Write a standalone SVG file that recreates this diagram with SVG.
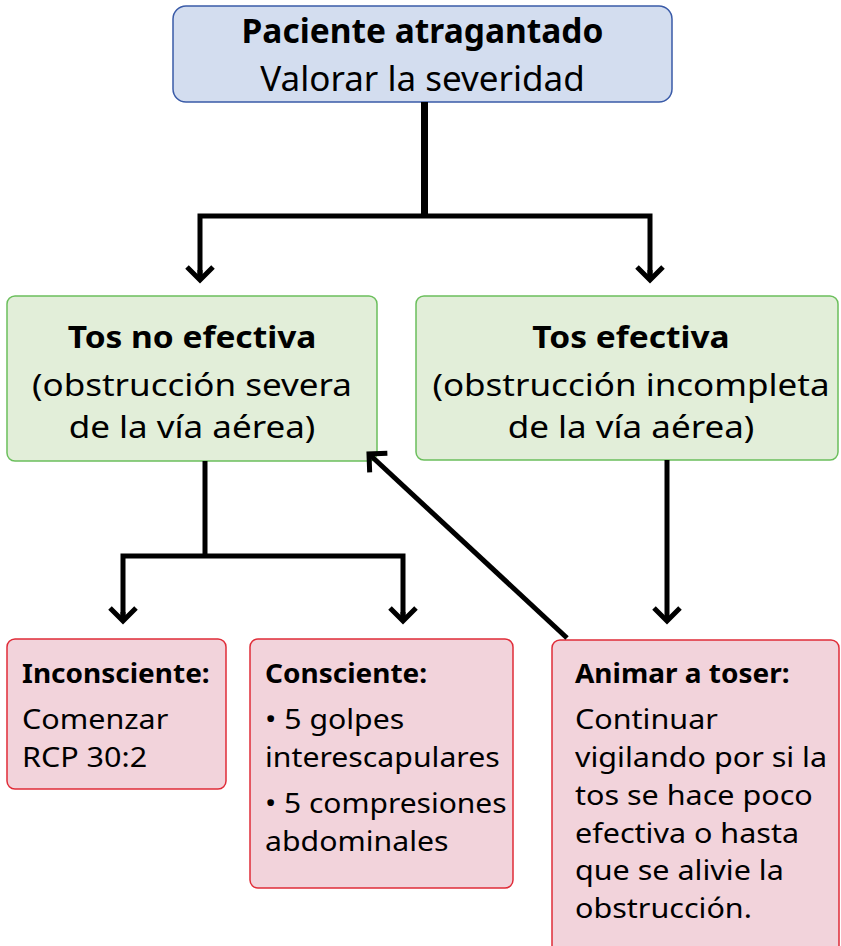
<svg xmlns="http://www.w3.org/2000/svg" width="841" height="946" viewBox="0 0 841 946">
<defs>
<marker id="chev" markerUnits="userSpaceOnUse" viewBox="-20 -16 24 32" refX="0" refY="0" markerWidth="24" markerHeight="32" orient="auto">
<path d="M-13,-13 L0,0 L-13,13" fill="none" stroke="#000" stroke-width="5" stroke-linejoin="miter"/>
</marker>
</defs>
<style>
text{font-family:"Noto Sans","Open Sans","DejaVu Sans",sans-serif;fill:#000}
.blue{fill:#d3ddef;stroke:#3a5ba8;stroke-width:1.5}
.green{fill:#e2eed9;stroke:#6bbf5c;stroke-width:1.5}
.pink{fill:#f2d3db;stroke:#e02c38;stroke-width:1.5}
.top{font-size:35px}
.topb{font-size:33.5px;font-weight:bold}
.big{font-size:30.5px}
.bigb{font-size:30.5px;font-weight:bold}
.sm{font-size:27px}
.smb{font-size:27px;font-weight:bold}
.m{text-anchor:middle}
.c{stroke:#000;fill:none;stroke-linejoin:miter}
</style>
<g id="n-paciente">
<rect class="blue" x="173" y="6" width="499" height="96" rx="13"/>
<text class="topb m" x="422.5" y="43">Paciente atragantado</text>
<text class="top m" x="422.5" y="91">Valorar la severidad</text>
</g>
<g id="n-tos-no-efectiva">
<rect class="green" x="7" y="296" width="370" height="165" rx="8"/>
<text class="bigb m" transform="translate(192,348) scale(1.098,1)">Tos no efectiva</text>
<text class="big m" transform="translate(192,396) scale(1.148,1)">(obstrucción severa</text>
<text class="big m" transform="translate(192,438) scale(1.148,1)">de la vía aérea)</text>
</g>
<g id="n-tos-efectiva">
<rect class="green" x="416" y="296" width="422" height="164" rx="8"/>
<text class="bigb m" transform="translate(631,348) scale(1.098,1)">Tos efectiva</text>
<text class="big m" transform="translate(631,396) scale(1.148,1)">(obstrucción incompleta</text>
<text class="big m" transform="translate(631,438) scale(1.148,1)">de la vía aérea)</text>
</g>
<g id="n-inconsciente">
<rect class="pink" x="7" y="639" width="219" height="150" rx="8"/>
<text class="smb" transform="translate(22,683) scale(1.037,1)">Inconsciente:</text>
<text class="sm" transform="translate(22,729) scale(1.13,1)">Comenzar</text>
<text class="sm" transform="translate(22,767) scale(1.13,1)">RCP 30:2</text>
</g>
<g id="n-consciente">
<rect class="pink" x="250" y="639" width="263" height="249" rx="8"/>
<text class="smb" transform="translate(265,683) scale(1.037,1)">Consciente:</text>
<text class="sm" transform="translate(265,729) scale(1.12,1)">• 5 golpes</text>
<text class="sm" transform="translate(265,767) scale(1.12,1)">interescapulares</text>
<text class="sm" transform="translate(265,813) scale(1.11,1)">• 5 compresiones</text>
<text class="sm" transform="translate(265,851) scale(1.12,1)">abdominales</text>
</g>
<g id="n-animar">
<rect class="pink" x="552" y="640" width="287" height="320" rx="8"/>
<text class="smb" transform="translate(575,683) scale(1.037,1)">Animar a toser:</text>
<text class="sm" transform="translate(575,729) scale(1.13,1)">Continuar</text>
<text class="sm" transform="translate(575,767) scale(1.13,1)">vigilando por si la</text>
<text class="sm" transform="translate(575,805) scale(1.13,1)">tos se hace poco</text>
<text class="sm" transform="translate(575,842.5) scale(1.13,1)">efectiva o hasta</text>
<text class="sm" transform="translate(575,880) scale(1.13,1)">que se alivie la</text>
<text class="sm" transform="translate(575,917.5) scale(1.13,1)">obstrucción.</text>
</g>
<g id="connectors">
<path class="c" d="M424.5,102 V216" stroke-width="7"/>
<path class="c" d="M200,276 V216 H650 V276" stroke-width="5"/>
<path class="c" d="M200,270 V280" stroke-width="5" marker-end="url(#chev)"/>
<path class="c" d="M650,270 V280" stroke-width="5" marker-end="url(#chev)"/>
<path class="c" d="M205,461 V556" stroke-width="5"/>
<path class="c" d="M123,618 V556 H403 V618" stroke-width="5"/>
<path class="c" d="M123,612 V621" stroke-width="5" marker-end="url(#chev)"/>
<path class="c" d="M403,612 V621" stroke-width="5" marker-end="url(#chev)"/>
<path class="c" d="M667,460 V621" stroke-width="5" marker-end="url(#chev)"/>
<path class="c" d="M567,638 L369,454" stroke-width="5" marker-end="url(#chev)"/>
</g>
</svg>
